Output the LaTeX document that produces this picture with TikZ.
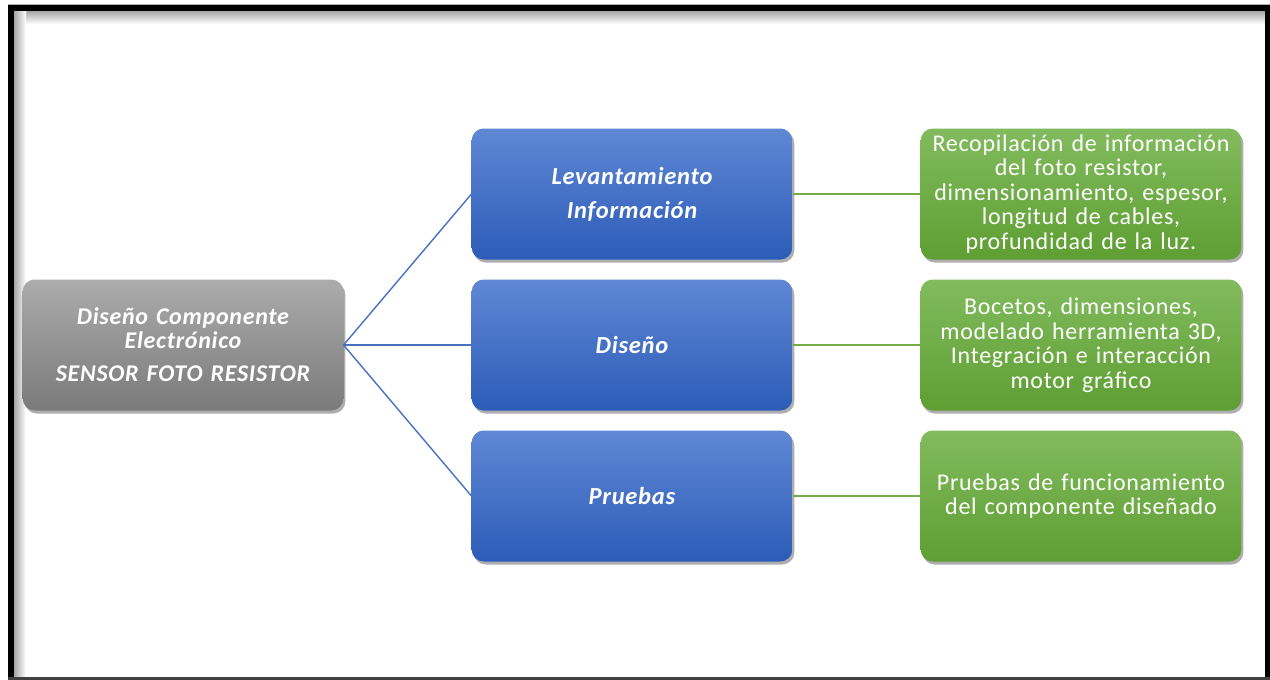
\documentclass[tikz,border=0pt]{standalone}
\usepackage{fontspec}
\setmainfont[LetterSpace=3]{Carlito}
\usetikzlibrary{shadows}
\definecolor{bluetop}{RGB}{95,135,212}
\definecolor{bluebot}{RGB}{44,92,184}
\definecolor{graytop}{RGB}{172,172,172}
\definecolor{graybot}{RGB}{122,122,122}
\definecolor{greentop}{RGB}{130,187,94}
\definecolor{greenbot}{RGB}{94,158,50}
\definecolor{linkblue}{RGB}{72,114,192}
\definecolor{linkgreen}{RGB}{112,173,71}

\begin{document}
\begin{tikzpicture}[x=1pt,y=-1pt,
    box/.style={rounded corners=12pt, minimum width=320pt, minimum height=131pt,
      text width=314pt, align=center, text=white,
      drop shadow={shadow xshift=2pt, shadow yshift=-3pt, opacity=0.45, fill=black!70}},
    rootbox/.style={box, top color=graytop, bottom color=graybot, font=\fontsize{24}{24}\selectfont\bfseries\itshape},
    stagebox/.style={box, top color=bluetop, bottom color=bluebot, font=\fontsize{24.5}{34}\selectfont\bfseries\itshape},
    notebox/.style={box, top color=greentop, bottom color=greenbot, font=\fontsize{24}{24.5}\selectfont},
    link/.style={line width=1.4pt}]
    \useasboundingbox (0,0) rectangle (1270,680);
    % frame
    \fill[white] (0,0) rectangle (1270,680);
    \shade[top color=black!35, bottom color=white] (14,11) rectangle (1265,24);
    \shade[left color=black!35, right color=white] (14,11) rectangle (26,678);
    \fill[black] (8,5) rectangle (1270,11);
    \fill[black] (8,5) rectangle (14,680);
    \fill[black] (1265,5) rectangle (1270,680);
    \fill[black!75] (8,677) rectangle (1270,680);
    \draw[black!30] (8,4.5) -- (1270,4.5);

    % boxes
    \node[rootbox] (root) at (183,345) {Diseño Componente\\ Electrónico\\[9pt] SENSOR FOTO RESISTOR};
    \node[stagebox] (lev) at (632,194) {Levantamiento\\ Información};
    \node[stagebox] (dis) at (632,345) {Diseño};
    \node[stagebox] (pru) at (632,496) {Pruebas};
    \node[notebox] (info1) at (1081,194) {Recopilación de información\\ del foto resistor,\\ dimensionamiento, espesor,\\ longitud de cables,\\ profundidad de la luz.};
    \node[notebox] (info2) at (1081,345) {Bocetos, dimensiones,\\ modelado herramienta 3D,\\ Integración e interacción\\ motor gráfico};
    \node[notebox] (info3) at (1081,496) {Pruebas de funcionamiento\\ del componente diseñado};

    % links
    \draw[link, linkblue] (root.east) -- (lev.west);
    \draw[link, linkblue] (root.east) -- (dis.west);
    \draw[link, linkblue] (root.east) -- (pru.west);
    \draw[link, linkgreen] (lev.east) -- (info1.west);
    \draw[link, linkgreen] (dis.east) -- (info2.west);
    \draw[link, linkgreen] (pru.east) -- (info3.west);
\end{tikzpicture}
\end{document}
